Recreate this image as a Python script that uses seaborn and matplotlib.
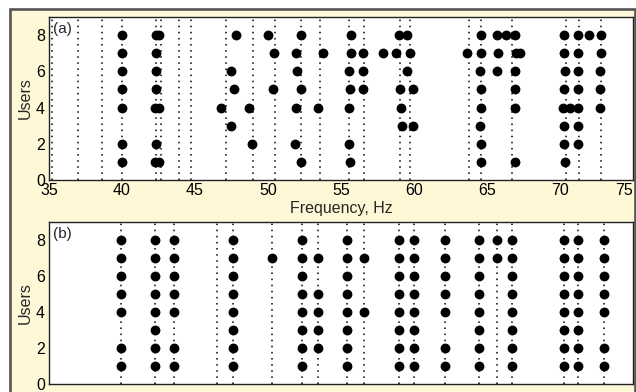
import numpy as np
import pandas as pd
import matplotlib
matplotlib.use("Agg")
import matplotlib.pyplot as plt
import seaborn as sns
from matplotlib.patches import Rectangle

# ---------------- data ----------------
x_ticks = [35, 40, 45, 50, 55, 60, 65, 70, 75]
y_ticks = [0, 2, 4, 6, 8]

# panel (a): reference frequencies (dotted lines)
a_lines = [35.2, 37.0, 38.6, 40.0, 42.35, 42.65, 43.9, 44.75, 47.1, 48.95,
           50.45, 52.25, 53.55, 55.55, 56.55, 59.05, 59.75, 63.75, 64.6,
           66.7, 70.4, 71.3, 72.8]
# panel (a): detected frequencies per user
a_users = [8, 7, 6, 5, 4, 3, 2, 1]
a_freqs = [
    [40.0, 42.3, 42.55, 47.8, 49.98, 52.24, 55.68, 59.0, 59.5, 64.57, 65.71,
     66.3, 66.92, 70.3, 71.21, 72.01, 72.79],
    [40.0, 42.35, 50.43, 51.92, 53.75, 55.68, 56.53, 57.86, 58.79, 59.75,
     63.61, 64.57, 65.75, 66.99, 67.26, 70.3, 71.21, 72.83],
    [40.0, 42.35, 47.49, 51.96, 55.55, 56.53, 59.54, 64.52, 65.71, 66.92,
     70.34, 71.21, 72.74],
    [40.0, 42.35, 47.69, 50.37, 52.24, 55.62, 56.53, 59.06, 59.9, 64.59,
     66.92, 70.3, 71.21, 72.74],
    [40.0, 42.25, 42.5, 46.78, 48.7, 51.92, 53.42, 55.55, 59.13, 64.59,
     66.92, 70.23, 70.68, 71.21, 72.74],
    [47.49, 59.18, 59.9, 64.55, 70.3, 71.21],
    [40.0, 42.35, 48.9, 51.87, 55.55, 64.59, 70.3, 71.21],
    [40.0, 42.25, 42.55, 52.24, 55.62, 64.59, 66.92, 70.36],
]

# panel (b): frequencies (dotted lines) and users present at each
b_lines = [39.9, 42.25, 43.55, 46.5, 47.6, 50.3, 52.3, 53.4, 55.4, 56.6,
           58.95, 60.0, 62.1, 64.45, 65.7, 66.7, 70.25, 71.2, 73.0]
b_cols = [39.9, 42.25, 43.55, 47.6, 50.3, 52.3, 53.4, 55.4, 56.6, 58.95,
          60.0, 62.1, 64.45, 65.7, 66.7, 70.25, 71.2, 73.0]
b_col_users = [
    [8, 7, 6, 5, 4, 2, 1],
    [8, 7, 6, 5, 4, 3, 2, 1],
    [8, 7, 6, 5, 4, 2, 1],
    [8, 7, 6, 5, 4, 3, 2, 1],
    [7],
    [8, 7, 6, 5, 4, 3, 2, 1],
    [7, 5, 4, 3, 2],
    [8, 7, 6, 5, 4, 3, 2, 1],
    [7, 4],
    [8, 7, 6, 5, 4, 3, 2, 1],
    [8, 7, 6, 5, 4, 3, 2, 1],
    [8, 7, 6, 5, 4, 2, 1],
    [8, 7, 6, 5, 4, 3, 2, 1],
    [8, 7],
    [8, 7, 6, 5, 4, 3, 2, 1],
    [8, 7, 6, 5, 4, 3, 2, 1],
    [8, 7, 6, 5, 4, 3, 2, 1],
    [8, 7, 6, 5, 4, 2, 1],
]

df_a = pd.DataFrame([(f, u) for u, fs in zip(a_users, a_freqs) for f in fs],
                    columns=["freq", "user"])
df_b = pd.DataFrame([(f, u) for f, us in zip(b_cols, b_col_users) for u in us],
                    columns=["freq", "user"])

# ---------------- style ----------------
sns.set_style("white")
plt.rcParams["font.family"] = ["Liberation Sans", "DejaVu Sans"]
FS = 11.5
plt.rcParams["font.size"] = FS

W, H = 636, 392
fig = plt.figure(figsize=(W / 100, H / 100), dpi=100, facecolor="white")
cream = "#FFF8D7"
fig.patches.append(Rectangle((9.5 / W, -0.05), (634.8 - 9.5) / W, 1 - 8.5 / H + 0.05,
                             transform=fig.transFigure, facecolor=cream,
                             edgecolor="#555555", linewidth=1.9, zorder=-10))

ax_a = fig.add_axes([49 / W, 1 - 180 / H, 584 / W, 163 / H])
ax_b = fig.add_axes([49 / W, 1 - 384 / H, 584 / W, 162 / H])

for ax, lines, df, lab in [(ax_a, a_lines, df_a, "(a)"), (ax_b, b_lines, df_b, "(b)")]:
    ax.set_facecolor("white")
    for x in lines:
        ax.axvline(x, color="black", linewidth=1.1, linestyle=(0, (1, 3.0)), zorder=1)
    sns.scatterplot(data=df, x="freq", y="user", ax=ax, color="black", s=50,
                    linewidth=0, marker="o", zorder=3, legend=False)
    ax.set_xlim(35, 75)
    ax.set_ylim(0, 9)
    ax.set_xticks(x_ticks)
    ax.set_yticks(y_ticks)
    ax.tick_params(axis="both", direction="in", length=3.5, width=0.9,
                   colors="black", labelsize=FS, pad=2)
    ax.tick_params(axis="y", pad=3)
    for sp in ax.spines.values():
        sp.set_color("#222222")
        sp.set_linewidth(1.0)
        sp.set_visible(True)
    ax.set_ylabel("Users", fontsize=FS, labelpad=2)
    ax.set_xlabel("")
    ax.text(0.007, 0.97, lab, transform=ax.transAxes, ha="left", va="top",
            fontsize=FS - 0.5)

ax_a.set_xlabel("Frequency, Hz", fontsize=FS, labelpad=2)
ax_b.tick_params(axis="x", labelbottom=False)

# keep the last tick label inside the frame, as in the reference
fig.canvas.draw()
ax_a.get_xticklabels()[-1].set_horizontalalignment("right")

fig.savefig("out.png", dpi=100, facecolor=fig.get_facecolor())
